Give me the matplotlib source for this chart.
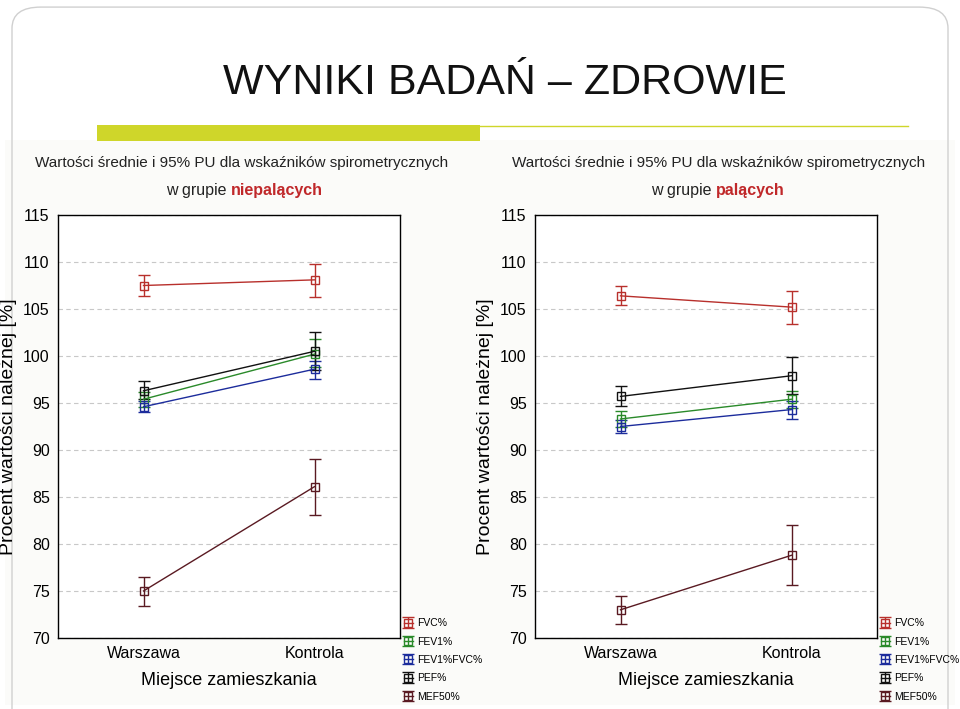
import matplotlib
matplotlib.use("Agg")
import matplotlib.pyplot as plt
from matplotlib.patches import FancyBboxPatch, Rectangle
from matplotlib.lines import Line2D

# === DATA ===
categories = ["Warszawa", "Kontrola"]
series = ["FVC%", "FEV1%", "FEV1%FVC%", "PEF%", "MEF50%"]
colors = ["#b8302c", "#2a8a2a", "#1c2c9c", "#111111", "#5a1a22"]

# non-smokers: means, lower CI, upper CI
ns_mean = [[107.5, 108.1], [95.4, 100.2], [94.6, 98.6], [96.3, 100.5], [75.0, 86.1]]
ns_low = [[106.4, 106.3], [94.6, 98.8], [94.0, 97.6], [95.4, 98.5], [73.4, 83.1]]
ns_high = [[108.6, 109.8], [96.2, 101.8], [95.2, 99.5], [97.3, 102.6], [76.5, 89.0]]

# smokers
s_mean = [[106.4, 105.2], [93.3, 95.4], [92.5, 94.3], [95.7, 97.9], [73.0, 78.8]]
s_low = [[105.4, 103.4], [92.5, 94.5], [91.8, 93.3], [94.7, 96.0], [71.5, 75.6]]
s_high = [[107.4, 106.9], [94.1, 96.3], [93.2, 95.2], [96.8, 99.9], [74.5, 82.0]]

yticks = [70, 75, 80, 85, 90, 95, 100, 105, 110, 115]

plt.rcParams["font.family"] = ["Liberation Sans", "DejaVu Sans"]

W, H = 960, 709
fig = plt.figure(figsize=(9.6, 7.09), dpi=100)
fig.patch.set_facecolor("white")

# slide frame + title
fig.patches.append(FancyBboxPatch((12 / W, -0.05), 936 / W, 1.04, boxstyle="round,pad=0,rounding_size=0.03",
                                  transform=fig.transFigure, fill=False, ec="#d0d0d0", lw=1))
fig.text(505 / W, 1 - 83 / H, "WYNIKI BADAŃ – ZDROWIE", ha="center", va="center",
         fontsize=31, color="#111111")
fig.patches.append(Rectangle((97 / W, 1 - 141 / H), 383 / W, 16 / H, transform=fig.transFigure,
                             color="#cfd62a", lw=0))
fig.add_artist(Line2D([480 / W, 908 / W], [1 - 126 / H, 1 - 126 / H], color="#cfd62a", lw=1))
# chart picture backgrounds
for x0, w in [(5, 477), (482, 473)]:
    fig.patches.append(Rectangle((x0 / W, 4 / H), w / W, 565 / H, transform=fig.transFigure,
                                 color="#fbfbf9", lw=0, zorder=0))


def draw_panel(left_px, mean, low, high, group, tx_split):
    ax = fig.add_axes([left_px / W, 1 - 638 / H, 342 / W, 423 / H])
    ax.set_zorder(3)
    ax.set_facecolor("white")
    xs = list(range(len(categories)))
    for name, c, m, lo, hi in zip(series, colors, mean, low, high):
        err = [[mi - l for mi, l in zip(m, lo)], [h - mi for mi, h in zip(m, hi)]]
        ax.errorbar(xs, m, yerr=err, color=c, lw=1, marker="s", ms=6, mfc="none", mec=c,
                    capsize=4, elinewidth=1, label=name)
    ax.set_xlim(-0.5, 1.5)
    ax.set_ylim(70, 115)
    ax.set_yticks(yticks)
    ax.set_xticks(xs)
    ax.set_xticklabels(categories)
    ax.tick_params(labelsize=11.5, length=0, pad=6)
    ax.yaxis.grid(True, ls=(0, (4, 3)), color="#c8c8c8", lw=0.8)
    ax.set_axisbelow(True)
    for sp in ax.spines.values():
        sp.set_linewidth(1)
    ax.set_xlabel("Miejsce zamieszkania", fontsize=13, labelpad=8)
    ax.set_ylabel("Procent wartości należnej [%]", fontsize=14, labelpad=4)
    ax.legend(loc="lower left", bbox_to_anchor=(1.0, -0.16), frameon=False, fontsize=7.5,
              handlelength=0.8, handletextpad=0.4, labelspacing=0.8, borderaxespad=0)
    cx = left_px + 184
    fig.text(cx / W, 1 - 163 / H, "Wartości średnie i 95% PU dla wskaźników spirometrycznych",
             ha="center", va="center", fontsize=11, color="#222222")
    fig.text(tx_split / W, 1 - 191 / H, "w grupie ", ha="right", va="center", fontsize=11.5,
             color="#222222")
    fig.text(tx_split / W, 1 - 191 / H, group, ha="left", va="center", fontsize=11.5,
             color="#c0282a", fontweight="bold")


draw_panel(58, ns_mean, ns_low, ns_high, "niepalących", 231)
draw_panel(535, s_mean, s_low, s_high, "palących", 716)

fig.savefig("out.png", dpi=100)
